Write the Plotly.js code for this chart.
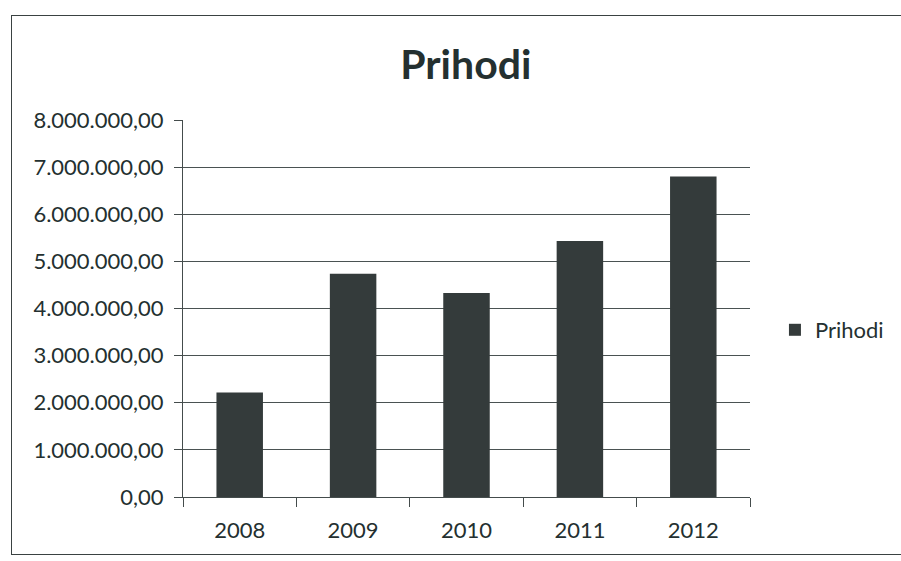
<!DOCTYPE html>
<html>
<head>
<meta charset="utf-8">
<script src="https://cdn.plot.ly/plotly-3.0.1.min.js"></script>
<style>
  html, body { margin: 0; padding: 0; background: #fff; }
  #wrap { position: relative; width: 901px; height: 561px; overflow: hidden; }
  #chart { width: 901px; height: 561px; }
  #frame { position: absolute; left: 11px; top: 15px; width: 900px; height: 540px;
           border: 1.5px solid #3a4242; box-sizing: border-box; pointer-events: none; }
</style>
</head>
<body>
<div id="wrap">
  <div id="chart"></div>
  <div id="frame"></div>
</div>
<script>
const years = ['2008', '2009', '2010', '2011', '2012'];
const prihodi = [2220000, 4740000, 4330000, 5430000, 6800000];
const yTicks = [0, 1000000, 2000000, 3000000, 4000000, 5000000, 6000000, 7000000, 8000000];

const ink = '#243030';
const font = 'Lato, "Open Sans", sans-serif';

const trace = {
  type: 'bar',
  name: 'Prihodi',
  x: years,
  y: prihodi,
  width: 0.41,
  marker: { color: '#343b3b', line: { width: 0 } }
};

const layout = {
  width: 901, height: 561,
  margin: { l: 183, r: 151, t: 120, b: 64, autoexpand: false },
  paper_bgcolor: '#ffffff',
  plot_bgcolor: '#ffffff',
  separators: ',.',
  font: { family: font, color: ink, size: 21 },
  title: {
    text: '<b>Prihodi</b>',
    font: { family: font, size: 41, color: ink },
    x: 0.517, xanchor: 'center',
    y: 0.885, yanchor: 'middle'
  },
  xaxis: {
    type: 'category',
    showline: true, linecolor: '#444c4c', linewidth: 1,
    ticks: 'outside', ticklen: 9, tickcolor: '#444c4c', tickson: 'boundaries',
    tickfont: { family: font, size: 22, color: ink },
    ticklabelstandoff: 14,
    showgrid: false
  },
  yaxis: {
    range: [0, 8000000],
    tickvals: yTicks,
    tickformat: ',.2f',
    showline: true, linecolor: '#444c4c', linewidth: 1,
    ticks: 'outside', ticklen: 8, tickcolor: '#444c4c',
    showgrid: true, gridcolor: '#4a5252', gridwidth: 1,
    zeroline: false,
    tickfont: { family: font, size: 22, color: ink },
    ticklabelstandoff: 6
  },
  showlegend: true,
  legend: {
    x: 1.044, xanchor: 'left',
    y: 0.443, yanchor: 'middle',
    font: { family: font, size: 22, color: ink },
    itemwidth: 30,
    bgcolor: 'rgba(0,0,0,0)'
  },
  bargap: 0.59
};

Plotly.newPlot('chart', [trace], layout, { displayModeBar: false, staticPlot: true });
</script>
</body>
</html>
